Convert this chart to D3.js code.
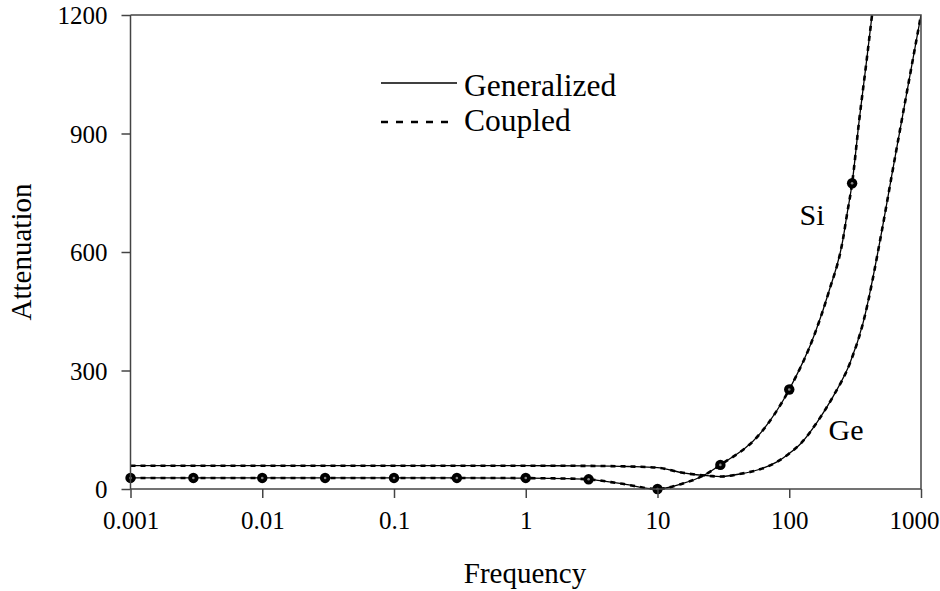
<!DOCTYPE html>
<html><head><meta charset="utf-8">
<script src="https://cdn.jsdelivr.net/npm/d3@7"></script>
<style>body{margin:0;background:#fff}</style>
</head><body><svg id="c" width="940" height="591"></svg>
<script>
// ---- data ----
const xTicks = [0.001, 0.01, 0.1, 1, 10, 100, 1000];
const xTickLabels = ["0.001", "0.01", "0.1", "1", "10", "100", "1000"];
const yTicks = [0, 300, 600, 900, 1200];

const siFreq = [0.001,0.003,0.01,0.03,0.1,0.3,1,2,3,5.2,10,15.6,22,30,60,100,157,200,255,274,300,340,385,425];
const siGeneralized = [28,28,28,28,28,28,27.5,26.5,24.5,14,0,14,33,61,140,252,395,500,630,694,774,935,1080,1200];
const siCoupled = [28,28,28,28,28,28,27.5,26.5,24.5,14,0,14,33,61,140,252,395,500,630,694,774,935,1080,1200];

const geFreq = [0.001,0.01,0.1,1,3,6,10,15.6,25,30,42,60,80,100,123,161,215,290,363,506,597,821,1000];
const geGeneralized = [59,59,59,59,58.5,57,54,41,33,31.5,38,50,68,90,116,167,234,320,420,656,790,1044,1200];
const geCoupled = [59,59,59,59,58.5,57,54,41,33,31.5,38,50,68,90,116,167,234,320,420,656,790,1044,1200];

const markerFreq = [0.001,0.003,0.01,0.03,0.1,0.3,1,3,10,30,100,300];
const markerValue = [28,28,28,28,28,28,28,24.5,0,61,252,774];

// ---- pick an installed serif font ----
function pickFont(cands){
  const c = document.createElement("canvas").getContext("2d");
  const s = "Generalized Coupled 0123456789";
  for (const f of cands){
    for (const base of ["monospace","sans-serif"]){
      c.font = `30px ${base}`; const w0 = c.measureText(s).width;
      c.font = `30px "${f}", ${base}`; const w1 = c.measureText(s).width;
      if (Math.abs(w1-w0) > 0.5) { return `"${f}", serif`; }
    }
  }
  return "serif";
}
const FONT = pickFont(["Liberation Serif","Tinos","Times New Roman","Times","Nimbus Roman","DejaVu Serif","Noto Serif"]);

// ---- chart ----
const svg = d3.select("#c").style("font-family", FONT);
const x = d3.scaleLog().domain([0.001, 1000]).range([130.5, 921]);
const y = d3.scaleLinear().domain([0, 1200]).range([489, 15]);

svg.append("clipPath").attr("id","clip").append("rect")
  .attr("x",130.5).attr("y",13).attr("width",790.5).attr("height",478);

const line = d3.line().x(d=>x(d[0])).y(d=>y(d[1])).curve(d3.curveMonotoneX);
const g = svg.append("g").attr("clip-path","url(#clip)");
function draw(freq, vals, dashed){
  g.append("path").datum(freq.map((f,i)=>[f,vals[i]]))
    .attr("d", line).attr("fill","none").attr("stroke","#000")
    .attr("stroke-width", dashed?2.6:1.3)
    .attr("stroke-dasharray", dashed?"5,5":null);
}
draw(siFreq, siGeneralized, false);
draw(geFreq, geGeneralized, false);
draw(siFreq, siCoupled, true);
draw(geFreq, geCoupled, true);

svg.append("g").selectAll("circle").data(markerFreq).join("circle")
  .attr("cx", d=>x(d)).attr("cy", (d,i)=>y(markerValue[i])).attr("r",5.2)
  .attr("fill","#000");
svg.append("g").selectAll("circle").data(markerFreq).join("circle")
  .attr("cx", d=>x(d)).attr("cy", (d,i)=>y(markerValue[i])).attr("r",1.3)
  .attr("fill","#888");

// frame
svg.append("path").attr("d", `M130.5,15H921V489`).attr("fill","none").attr("stroke","#444").attr("stroke-width",1.5);

const xAxis = svg.append("g").attr("transform","translate(0,489)")
  .call(d3.axisBottom(x).tickValues(xTicks).tickFormat((d,i)=>xTickLabels[i]).tickSize(9).tickPadding(13));
const yAxis = svg.append("g").attr("transform","translate(130.5,0)")
  .call(d3.axisLeft(y).tickValues(yTicks).tickFormat(d3.format("d")).tickSize(9).tickPadding(14));
[xAxis,yAxis].forEach(a=>{
  a.attr("font-family", null).attr("font-size", null);
  a.selectAll("path,line").attr("stroke","#444").attr("stroke-width",1.5);
  a.selectAll("text").style("font-family", FONT).style("font-size","25px").attr("fill","#000");
  a.select(".domain").attr("d", a===xAxis ? "M130.5,0H921" : "M0,15V489");
});
yAxis.selectAll("text").attr("dy","0.34em");
// keep the last x label inside the page, as in the reference
xAxis.selectAll(".tick").filter(d=>d===1000).select("text")
  .attr("text-anchor","end").attr("x", 939 - x(1000));

svg.append("text").attr("x",525).attr("y",583).attr("text-anchor","middle").style("font-size","29px").text("Frequency");
svg.append("text").attr("transform","translate(31,252) rotate(-90)").attr("text-anchor","middle").style("font-size","29px").text("Attenuation");

// legend
svg.append("line").attr("x1",381).attr("x2",457).attr("y1",83).attr("y2",83).attr("stroke","#000").attr("stroke-width",1.5);
svg.append("line").attr("x1",381).attr("x2",450).attr("y1",122).attr("y2",122).attr("stroke","#000").attr("stroke-width",2.6).attr("stroke-dasharray","7,8");
svg.append("text").attr("x",464).attr("y",96).style("font-size","31.5px").text("Generalized");
svg.append("text").attr("x",464).attr("y",131).style("font-size","31.5px").text("Coupled");

svg.append("text").attr("x",812).attr("y",225).attr("text-anchor","middle").style("font-size","30px").text("Si");
svg.append("text").attr("x",846).attr("y",440).attr("text-anchor","middle").style("font-size","30px").text("Ge");
</script></body></html>
